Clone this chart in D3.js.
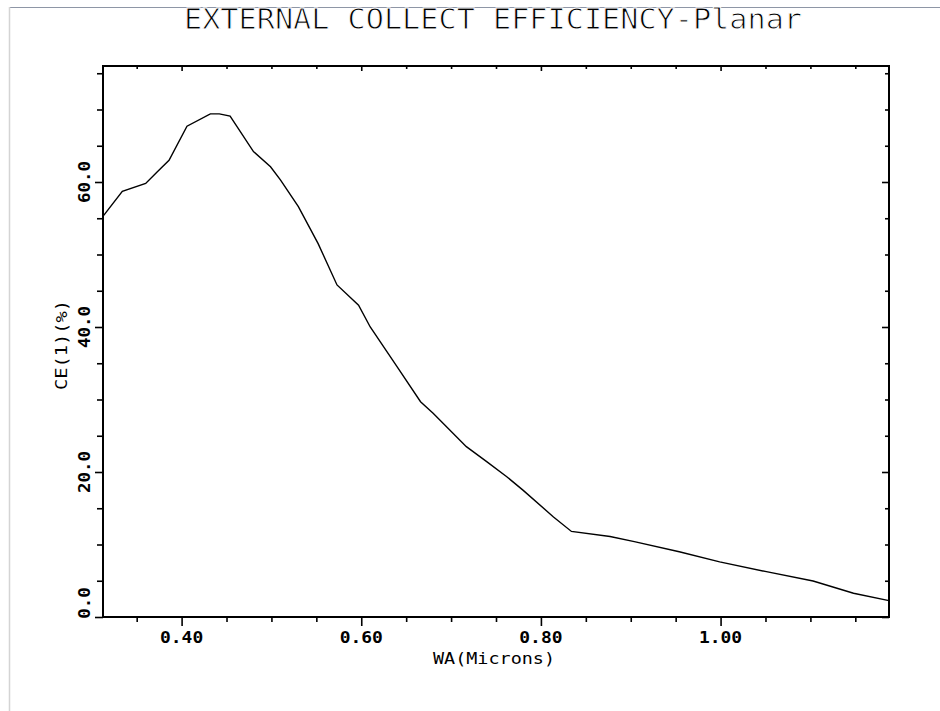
<!DOCTYPE html>
<html><head><meta charset="utf-8">
<script src="https://cdn.jsdelivr.net/npm/d3@7"></script>
<style>
html,body{margin:0;padding:0;background:#fff;}
svg{display:block;}
</style></head>
<body>
<script>
// ---- data ----
const titleText = "EXTERNAL COLLECT EFFICIENCY-Planar";
const xLabel = "WA(Microns)";
const yLabel = "CE(1)(%)";
const waValues = [0.3133, 0.334, 0.36, 0.373, 0.386, 0.406, 0.432, 0.442, 0.454, 0.480, 0.499, 0.510, 0.530, 0.552, 0.573, 0.597, 0.610, 0.640, 0.666, 0.680, 0.717, 0.740, 0.762, 0.780, 0.814, 0.834, 0.877, 0.904, 0.954, 0.999, 1.051, 1.103, 1.148, 1.1875];
const ceValues = [55.4, 58.7, 59.8, 61.4, 63.0, 67.7, 69.4, 69.4, 69.1, 64.2, 62.1, 60.3, 56.6, 51.5, 45.8, 43.0, 40.0, 34.5, 29.7, 28.1, 23.5, 21.4, 19.35, 17.5, 13.8, 11.8, 11.1, 10.4, 9.0, 7.6, 6.25, 4.97, 3.27, 2.25];
const xMajorTicks = [0.40, 0.60, 0.80, 1.00];
const xMajorLabels = ["0.40", "0.60", "0.80", "1.00"];
const xMinorTicks = [0.35, 0.45, 0.50, 0.55, 0.65, 0.70, 0.75, 0.85, 0.90, 0.95, 1.05, 1.10, 1.15];
const yMajorTicks = [0, 20, 40, 60];
const yMajorLabels = ["0.0", "20.0", "40.0", "60.0"];
const yMinorTicks = [5, 10, 15, 25, 30, 35, 45, 50, 55, 65, 70, 75];
const xDomain = [0.3125, 1.1875];
const yDomain = [0, 76];

// ---- layout ----
const W = 940, H = 711;
const L = 103, R = 889, T = 66, B = 617;
const svg = d3.select("body").append("svg").attr("width", W).attr("height", H);
svg.append("rect").attr("width", W).attr("height", H).attr("fill", "#fff");
// window border lines
svg.append("line").attr("x1", 10).attr("x2", W).attr("y1", 7.5).attr("y2", 7.5).attr("stroke", "#8e96a6").attr("stroke-width", 1);
svg.append("line").attr("x1", 9.5).attr("x2", 9.5).attr("y1", 7).attr("y2", H).attr("stroke", "#d4d4d4").attr("stroke-width", 1.5);

const x = d3.scaleLinear().domain(xDomain).range([L, R]);
const y = d3.scaleLinear().domain(yDomain).range([B, T]);

const mono = "'DejaVu Sans Mono', 'Liberation Mono', monospace";

function ax(gen, tv, size) {
  return gen.tickValues(tv).tickSize(size).tickFormat("");
}
function drawAxis(axisGen, transform) {
  const g = svg.append("g").attr("transform", transform).call(axisGen);
  g.select(".domain").remove();
  g.selectAll(".tick line").attr("stroke", "#000").attr("stroke-width", 1.6);
  return g;
}
// left (outward)
drawAxis(ax(d3.axisLeft(y), yMinorTicks, 6), `translate(${L},0)`);
drawAxis(ax(d3.axisLeft(y), yMajorTicks, 8), `translate(${L},0)`);
// right (inward)
drawAxis(ax(d3.axisLeft(y), yMinorTicks, 4), `translate(${R},0)`);
drawAxis(ax(d3.axisLeft(y), yMajorTicks, 7), `translate(${R},0)`);
// bottom (outward)
drawAxis(ax(d3.axisBottom(x), xMinorTicks, 5), `translate(0,${B})`);
drawAxis(ax(d3.axisBottom(x), xMajorTicks, 9), `translate(0,${B})`);
// top (inward)
drawAxis(ax(d3.axisBottom(x), xMinorTicks, 3), `translate(0,${T})`);
drawAxis(ax(d3.axisBottom(x), xMajorTicks, 5), `translate(0,${T})`);

// frame
svg.append("rect").attr("x", L).attr("y", T).attr("width", R - L).attr("height", B - T)
  .attr("fill", "none").attr("stroke", "#000").attr("stroke-width", 2);

// curve
const pts = waValues.map((v, i) => [v, ceValues[i]]);
svg.append("path").datum(pts)
  .attr("fill", "none").attr("stroke", "#000").attr("stroke-width", 1.4)
  .attr("d", d3.line().x(d => x(d[0])).y(d => y(d[1])));

// x tick labels
svg.selectAll(".xl").data(xMajorTicks).enter().append("text")
  .attr("x", d => x(d)).attr("y", 643)
  .attr("text-anchor", "middle")
  .attr("font-family", mono).attr("font-size", 15).attr("font-weight", "bold")
  .attr("textLength", (d, i) => xMajorLabels[i].length * 10.8)
  .attr("lengthAdjust", "spacingAndGlyphs")
  .text((d, i) => xMajorLabels[i]);

// y tick labels (rotated)
svg.selectAll(".yl").data(yMajorTicks).enter().append("text")
  .attr("transform", d => {
    const yy = d === 0 ? y(d) - 14 : y(d);
    return `translate(90,${yy}) rotate(-90)`;
  })
  .attr("text-anchor", "middle")
  .attr("font-family", mono).attr("font-size", 15).attr("font-weight", "bold")
  .attr("textLength", (d, i) => yMajorLabels[i].length * 10.5)
  .attr("lengthAdjust", "spacingAndGlyphs")
  .text((d, i) => yMajorLabels[i]);

// axis titles
svg.append("text").attr("x", 494).attr("y", 664).attr("text-anchor", "middle")
  .attr("font-family", mono).attr("font-size", 15)
  .attr("textLength", 122).attr("lengthAdjust", "spacingAndGlyphs")
  .text(xLabel);
svg.append("text").attr("transform", "translate(67,345) rotate(-90)").attr("text-anchor", "middle")
  .attr("font-family", mono).attr("font-size", 15)
  .attr("textLength", 90).attr("lengthAdjust", "spacingAndGlyphs")
  .text(yLabel);

// title (monospace, thinned with a white outline)
svg.append("text").attr("x", 184).attr("y", 29)
  .attr("font-family", mono).attr("font-size", 27.5)
  .attr("fill", "#000").attr("stroke", "#fff").attr("stroke-width", 0.9)
  .attr("textLength", 618).attr("lengthAdjust", "spacingAndGlyphs")
  .text(titleText);
</script>
</body></html>
